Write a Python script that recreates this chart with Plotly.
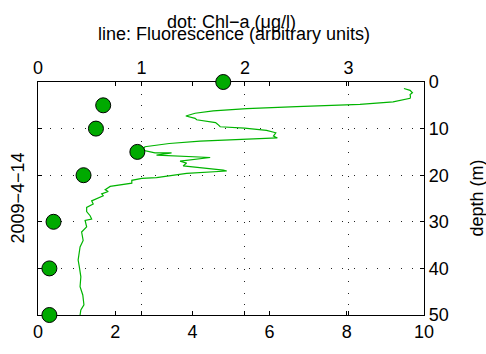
import plotly.graph_objects as go

# Chl-a samples (dots, top axis)
chl_depth = [0, 5, 10, 15, 20, 30, 40, 50]
chl_value = [1.79, 0.63, 0.56, 0.96, 0.44, 0.15, 0.11, 0.11]

# Fluorescence profile (line, bottom axis)
fl_depth = [1.4, 1.8, 2.3, 2.7, 3.2, 3.5, 4.25, 4.8, 5.3, 5.7, 6.2, 6.7, 7.3, 7.8, 8.1,
            8.7, 9.1, 9.6, 9.9, 10.4, 10.9, 11.6, 12.0, 12.3, 12.7, 13.2, 13.9, 14.6,
            15.2, 15.2, 15.7, 16.2, 17.0, 17.4, 18.0, 18.9, 19.1, 19.6, 20.0, 20.5,
            20.7, 21.1, 21.7, 22.4, 23.1, 23.5, 24.0, 24.4, 25.5, 26.2, 26.9, 27.8,
            28.7, 29.4, 29.7, 31.1, 32.2, 34.0, 35.4, 38.2, 39.6, 41.8, 43.9, 45.7,
            47.8, 48.9, 50.0]
fl_value = [9.48, 9.64, 9.70, 9.64, 9.65, 9.64, 9.20, 8.34, 6.70, 5.41, 4.54, 4.07, 3.83,
            4.07, 4.11, 4.60, 4.66, 4.72, 5.35, 5.92, 6.16, 6.10, 6.20, 5.10, 4.20, 3.40,
            2.77, 2.70, 3.03, 3.46, 3.07, 4.46, 3.68, 3.85, 3.76, 4.80, 4.89, 3.85, 3.55,
            3.07, 2.69, 2.43, 2.43, 1.87, 1.74, 1.82, 1.65, 1.69, 1.39, 1.43, 1.26, 1.26,
            1.35, 1.39, 1.22, 1.26, 1.13, 1.17, 1.09, 1.04, 1.07, 1.11, 1.09, 1.16, 1.19,
            1.11, 1.09]

bottom_ticks = [0, 2, 4, 6, 8, 10]
top_ticks = [0, 1, 2, 3]
depth_ticks = [0, 10, 20, 30, 40, 50]

FONT = "Liberation Sans, Arial, Helvetica, sans-serif"

fig = go.Figure()
fig.add_trace(go.Scatter(x=fl_value, y=fl_depth, mode="lines", xaxis="x", yaxis="y",
                         line=dict(color="#00b400", width=1.2), showlegend=False))
fig.add_trace(go.Scatter(x=chl_value, y=chl_depth, mode="markers", xaxis="x2", yaxis="y",
                         marker=dict(size=15, color="#00aa00", line=dict(color="black", width=1)),
                         cliponaxis=False, showlegend=False))

axis_common = dict(showline=True, linecolor="black", linewidth=1.3, ticks="inside",
                   ticklen=4, tickcolor="black", mirror="ticks", zeroline=False,
                   tickfont=dict(family=FONT, size=18, color="black"), layer="below traces")
grid = dict(showgrid=True, gridcolor="#222", gridwidth=1, griddash="1px,10.7px")

fig.update_layout(
    width=486, height=354,
    margin=dict(l=38, r=62, t=82, b=37),
    paper_bgcolor="white", plot_bgcolor="white",
    xaxis=dict(range=[0, 10], tickvals=bottom_ticks, showgrid=False, **axis_common),
    xaxis2=dict(range=[0, 3.73], tickvals=top_ticks, overlaying="x", side="top",
                **grid, **axis_common),
    yaxis=dict(range=[50, 0], tickvals=depth_ticks, side="right", **grid, **axis_common),
    annotations=[
        dict(text="dot: Chl\u2212a (\u03bcg/l)", xref="paper", yref="paper",
             x=(231 - 38) / 386, y=(317 - 21) / 235, xanchor="center", yanchor="middle",
             showarrow=False, font=dict(family=FONT, size=18, color="black")),
        dict(text="line: Fluorescence (arbitrary units)", xref="paper", yref="paper",
             x=(234 - 38) / 386, y=(317 - 34) / 235, xanchor="center", yanchor="middle",
             showarrow=False, font=dict(family=FONT, size=18, color="black")),
        dict(text="2009\u22124\u221214", xref="paper", yref="paper",
             x=(17 - 38) / 386, y=0.5, xanchor="center", yanchor="middle", textangle=-90,
             showarrow=False, font=dict(family=FONT, size=18, color="black")),
        dict(text="depth (m)", xref="paper", yref="paper",
             x=(476 - 38) / 386, y=0.5, xanchor="center", yanchor="middle", textangle=-90,
             showarrow=False, font=dict(family=FONT, size=18, color="black")),
    ],
)

fig.write_html("out.html")
